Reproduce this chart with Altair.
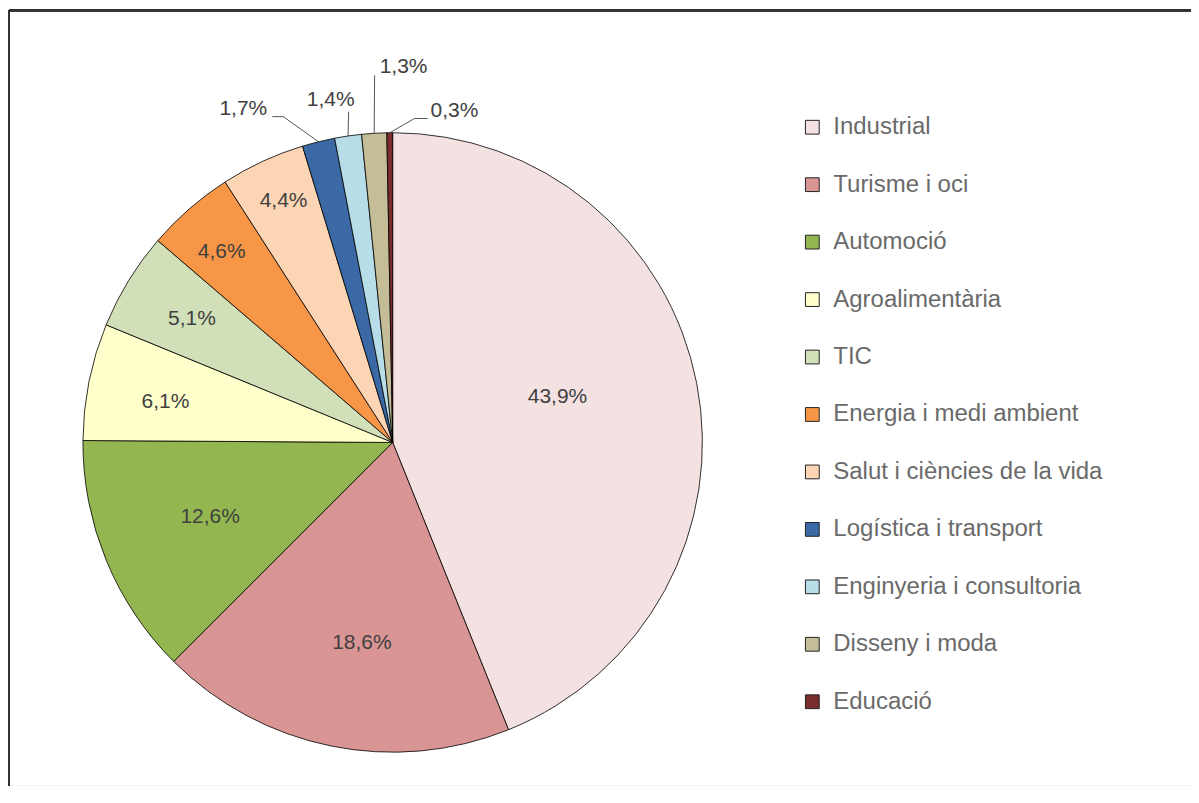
import altair as alt
import pandas as pd

# ---- data ----
categories = ["Industrial", "Turisme i oci", "Automoció", "Agroalimentària", "TIC",
              "Energia i medi ambient", "Salut i ciències de la vida", "Logística i transport",
              "Enginyeria i consultoria", "Disseny i moda", "Educació"]
values = [43.9, 18.6, 12.6, 6.1, 5.1, 4.6, 4.4, 1.7, 1.4, 1.3, 0.3]
colors = ["#F4E1E2", "#D99594", "#93B650", "#FFFFCC", "#D1E0B8", "#F79646",
          "#FCD5B5", "#3A69A5", "#B7DDE8", "#C4BD97", "#7B2C2C"]

# ---- layout (label placement, pixels / degrees) ----
label_r = [171, 203, 197.5, 231, 235.6, 256, 265, None, None, None, None]
label_dang = [-4.3, -2.8, 0, -1.2, 0, -0.9, 0.5, None, None, None, None]
call_dang = [None] * 7 + [-4.7, 0.7, 0.6, 4.4]
call_r = [None] * 7 + [344, 334, 368, 325]
call_h = [None] * 7 + [-11, 0, 0, 13]
call_tdx = [None] * 7 + [-29, -18, 29, 27]
call_tdy = [None] * 7 + [-8, -12, -8, -7]

CX, CY, R = 384, 432.5, 310
FONT = "Liberation Sans"

df = pd.DataFrame({
    "cat": categories, "val": values, "idx": list(range(len(categories))),
    "lr": label_r, "lda": label_dang,
    "cda": call_dang, "cr": call_r, "ch": call_h, "ctdx": call_tdx, "ctdy": call_tdy,
})

base = alt.Chart(df)

arcs = base.mark_arc(outerRadius=R, stroke="black", strokeWidth=0.8).encode(
    theta=alt.Theta("val:Q", stack=True),
    color=alt.Color("cat:N", scale=alt.Scale(domain=categories, range=colors),
                    legend=alt.Legend(title=None, orient="none", legendX=792, legendY=105,
                                      symbolType="square", symbolSize=190,
                                      symbolStrokeColor="#222", symbolStrokeWidth=1,
                                      labelFont=FONT, labelFontSize=24, labelColor="#6a6a6a",
                                      labelOffset=9, rowPadding=33.5, labelLimit=400)),
    order=alt.Order("idx:Q"),
    x=alt.value(CX), y=alt.value(CY),
)

calc = base.transform_window(
    cum="sum(val)", sort=[alt.SortField("idx")], frame=[None, 0]
).transform_joinaggregate(
    tot="sum(val)"
).transform_calculate(
    mid="(datum.cum - datum.val/2) / datum.tot * 2 * PI",
    txt="replace(format(datum.val, '.1f'), '.', ',') + '%'",
)

inside = calc.transform_filter("isValid(datum.lr)").transform_calculate(
    a="datum.mid + datum.lda * PI / 180",
).transform_calculate(
    lx=f"{CX} + datum.lr * sin(datum.a)",
    ly=f"{CY} - datum.lr * cos(datum.a)",
).mark_text(font=FONT, fontSize=21, color="#404040", align="center", baseline="middle").encode(
    x=alt.X("lx:Q", scale=None), y=alt.Y("ly:Q", scale=None), text="txt:N"
)

call = calc.transform_filter("isValid(datum.cr)").transform_calculate(
    a="datum.mid + datum.cda * PI / 180",
).transform_calculate(
    x0=f"{CX} + {R} * sin(datum.mid)",
    y0=f"{CY} - {R} * cos(datum.mid)",
    x1=f"{CX} + datum.cr * sin(datum.a)",
    y1=f"{CY} - datum.cr * cos(datum.a)",
).transform_calculate(
    x2="datum.x1 + datum.ch",
).transform_calculate(
    tx="datum.x2 + datum.ctdx",
    ty="datum.y1 + datum.ctdy",
)

lead1 = call.mark_rule(color="#555555", strokeWidth=1).encode(
    x=alt.X("x0:Q", scale=None), y=alt.Y("y0:Q", scale=None),
    x2="x1:Q", y2="y1:Q",
)
lead2 = call.mark_rule(color="#555555", strokeWidth=1).encode(
    x=alt.X("x1:Q", scale=None), y=alt.Y("y1:Q", scale=None),
    x2="x2:Q", y2="y1:Q",
)
calltext = call.mark_text(font=FONT, fontSize=21, color="#404040", align="center",
                          baseline="middle").encode(
    x=alt.X("tx:Q", scale=None), y=alt.Y("ty:Q", scale=None), text="txt:N"
)

frame_top = base.mark_rule(color="#333333", strokeWidth=1.6).encode(
    x=alt.value(0), x2=alt.value(1400), y=alt.value(0)
)
frame_left = base.mark_rule(color="#333333", strokeWidth=1.6).encode(
    x=alt.value(0), y=alt.value(0), y2=alt.value(1200)
)

chart = alt.layer(arcs, inside, lead1, lead2, calltext, frame_top, frame_left).properties(
    width=1183, height=776,
    autosize=alt.AutoSizeParams(type="none"),
    padding={"left": 1, "top": 2, "right": 0, "bottom": 0},
).configure_view(stroke=None).configure(background="white")

chart.save("out.html", embed_options={"renderer": "svg", "actions": False})
